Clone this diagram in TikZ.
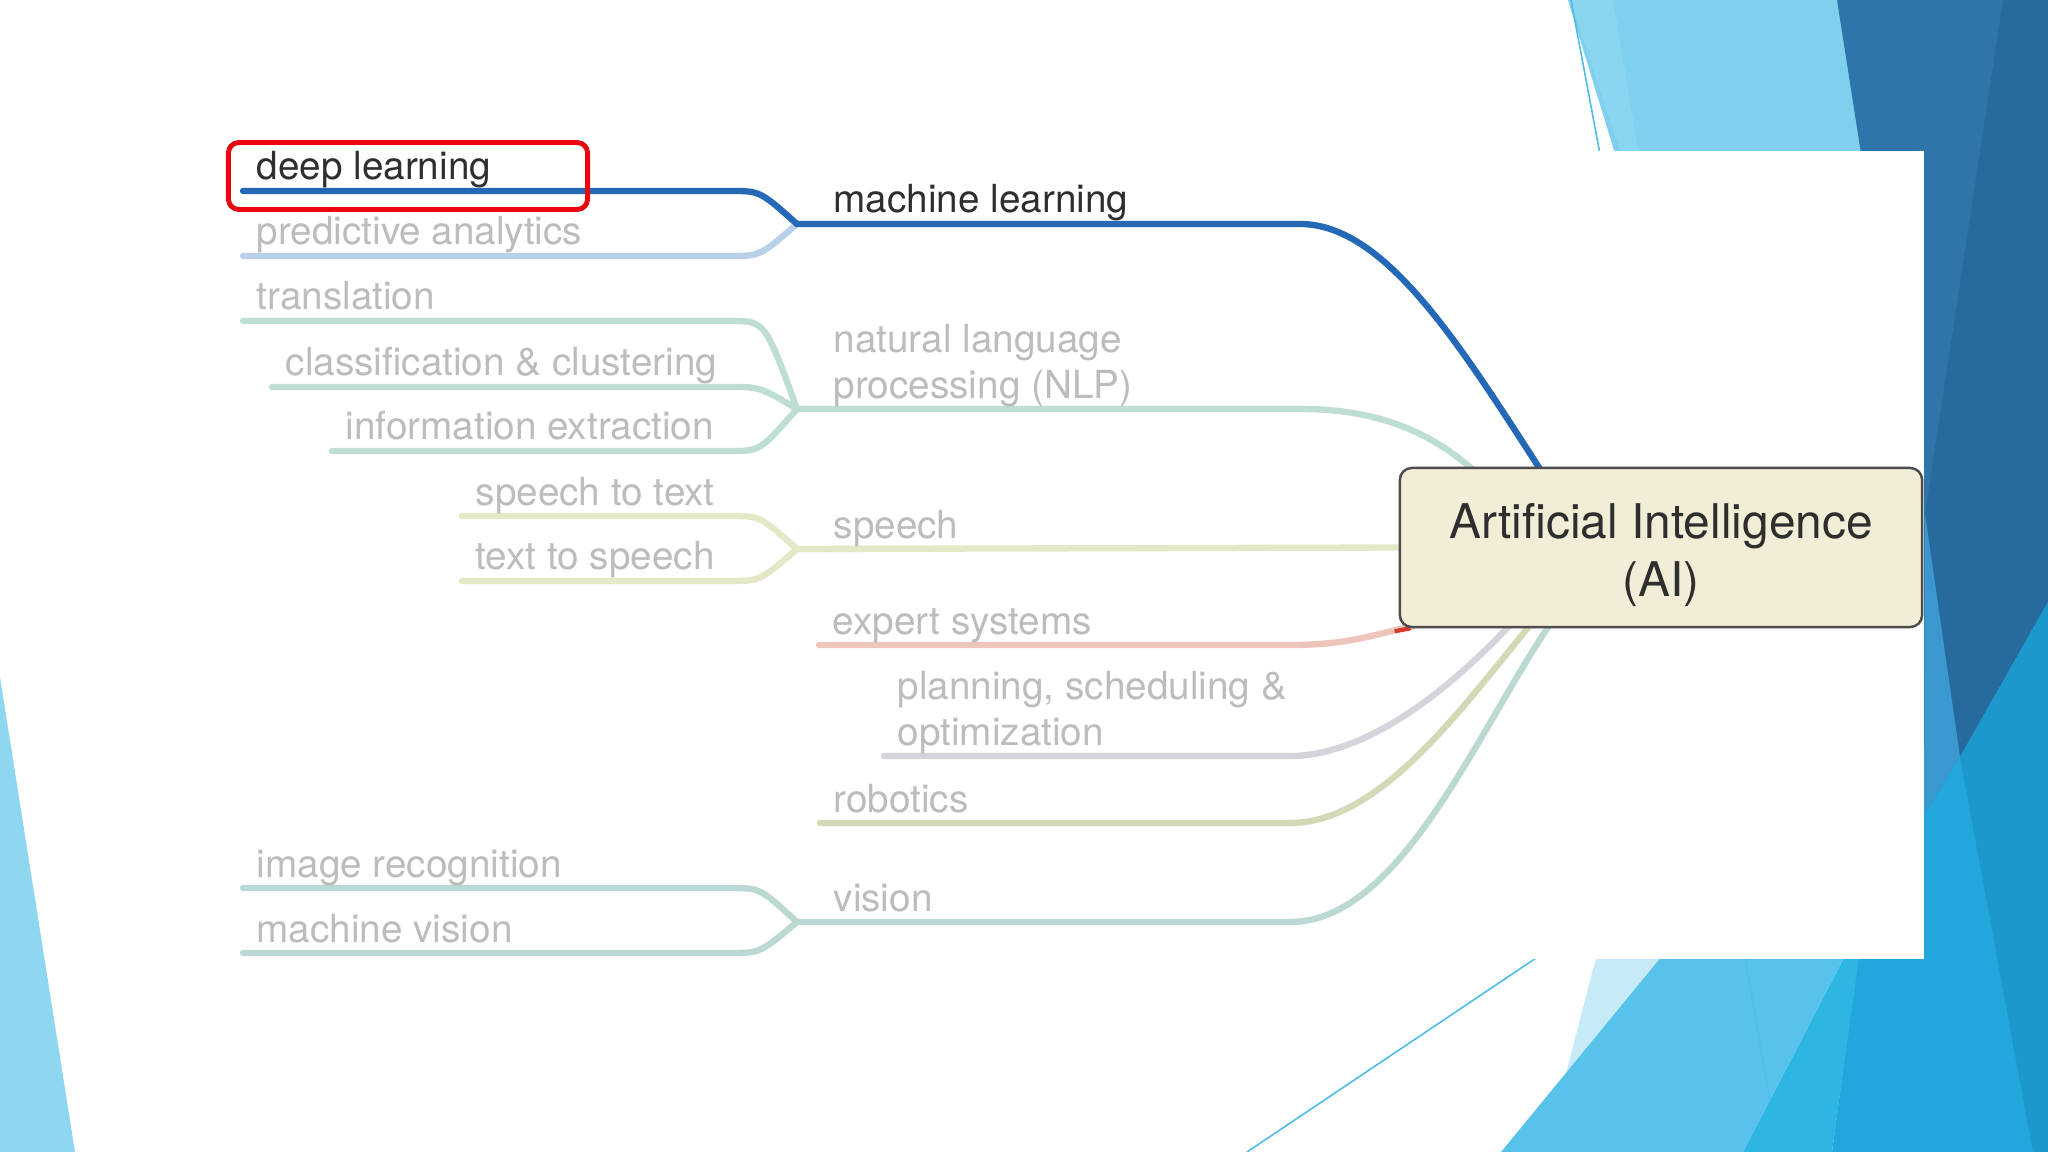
\documentclass[tikz,border=0pt]{standalone}
\usepackage{fontspec}
\setmainfont{TeX Gyre Heros}
\usetikzlibrary{calc}
\definecolor{bgLight}{HTML}{7FD0EE}
\definecolor{bgLight2}{HTML}{8AD5F0}
\definecolor{bgThin}{HTML}{4DBCE8}
\definecolor{bgDark}{HTML}{2E76A9}
\definecolor{bgNavy}{HTML}{276A9D}
\definecolor{bgMidDark}{HTML}{3B97D0}
\definecolor{bgBright}{HTML}{22A6DB}
\definecolor{bgBrightDk}{HTML}{1D98CC}
\definecolor{bgCyan}{HTML}{2DB6E3}
\definecolor{bgMed}{HTML}{57C2EA}
\definecolor{bgPale}{HTML}{C6EAF8}
\definecolor{bgLeft}{HTML}{8DD7F0}
\definecolor{mlblue}{HTML}{2468B6}
\definecolor{pablue}{HTML}{BACFE8}
\definecolor{nlpc}{HTML}{BEDDD5}
\definecolor{spc}{HTML}{E5E7C6}
\definecolor{exc}{HTML}{EEC5BA}
\definecolor{exred}{HTML}{D8382B}
\definecolor{plc}{HTML}{D6D3DB}
\definecolor{rbc}{HTML}{D5D8B6}
\definecolor{vic}{HTML}{BBD9D2}
\definecolor{fadetext}{HTML}{BCBCBC}
\definecolor{darktext}{HTML}{2E2E2E}
\definecolor{aifill}{HTML}{F2EDD6}
\definecolor{aiborder}{HTML}{4D4D4D}
\definecolor{hlred}{HTML}{E8070F}
\pgfdeclarelayer{bglayer}
\pgfdeclarelayer{linelayer}
\pgfsetlayers{bglayer,linelayer,main}
\tikzset{
  lbl/.style={font=\fontsize{11}{13}\selectfont, text=fadetext, inner sep=0pt, anchor=base west},
  lbldark/.style={lbl, text=darktext},
  branch/.style={line width=1.8pt, line cap=round},
  aibox/.style={draw=aiborder, line width=0.7pt, fill=aifill, rounded corners=3.4pt,
    minimum width=5.22cm, minimum height=1.59cm, inner sep=0pt},
  aitext/.style={inner sep=0pt, align=center,
    font=\fontsize{13.6}{16.5}\selectfont, text=darktext},
  hlbox/.style={draw=hlred, line width=1.4pt, rounded corners=3pt,
    minimum width=3.59cm, minimum height=0.67cm, inner sep=0pt}
}
\begin{document}
\begin{tikzpicture}[x=0.01cm, y=-0.01cm]
\useasboundingbox (0,0) rectangle (2048,1152);
\begin{pgfonlayer}{bglayer}
\fill[white] (0,0) rectangle (2048,1152);
\fill[bgLight] (1568,0) -- (1840,0) -- (1866,170) -- (1620,170) -- cycle;
\fill[bgLight2] (1570,0) -- (1613,0) -- (1640,160) -- (1623,160) -- cycle;
\draw[bgThin, line width=0.45pt] (1571,0) -- (1603,170);
\fill[bgDark] (1837,0) -- (2048,0) -- (2048,640) -- (1924,830) -- (1900,160) -- (1862,160) -- cycle;
\fill[bgNavy] (2003,0) -- (2048,0) -- (2048,602) -- (1960,757) -- (1925,514) -- cycle;
\fill[bgMidDark] (1925,514) -- (1960,757) -- (1924,815) -- cycle;
\fill[bgBright] (1859,950) -- (1924,950) -- (1924,815) -- (1960,757) -- (2048,602) -- (2048,1152) -- (1832,1152) -- cycle;
\fill[bgBrightDk] (1960,757) -- (2048,602) -- (2048,1152) -- (2033,1152) -- cycle;
\fill[bgCyan] (1848,950) -- (1860,950) -- (1832,1152) -- (1743,1152) -- cycle;
\fill[bgPale] (1598,950) -- (1667,950) -- (1565,1077) -- cycle;
\fill[bgMed] (1667,950) -- (1848,950) -- (1743,1152) -- (1501,1152) -- cycle;
\draw[bgThin!70!bgMed, line width=0.4pt] (1745,958) -- (1770,1100);
\draw[bgThin, line width=0.45pt] (1247,1152) -- (1545,952);
\fill[bgLeft] (0,677) -- (75,1152) -- (0,1152) -- cycle;
\fill[white] (150,151) rectangle (1924,959);
\end{pgfonlayer}
% ---------- junctions ----------
\coordinate (jml) at (797,224);
\coordinate (jnlp) at (797,409);
\coordinate (jsp) at (797,549);
\coordinate (jvi) at (797,922);
% ---------- central node ----------
\node[aibox] (ai) at (1661,547.5) {};
\node[aitext] (aitxt) at (1661,555) {Artificial Intelligence\\(AI)};
% ---------- labels ----------
\node[lbldark] (dl) at (256,180) {deep learning};
\node[lbl] (pa) at (256,245) {predictive analytics};
\node[lbl] (tr) at (256,310) {translation};
\node[lbl] (cc) at (285,376) {classification \& clustering};
\node[lbl] (ie) at (345,440) {information extraction};
\node[lbl] (stt) at (475,505) {speech to text};
\node[lbl] (tts) at (475,570) {text to speech};
\node[lbl] (ir) at (256,877) {image recognition};
\node[lbl] (mv) at (256,942) {machine vision};
\node[lbldark] (ml) at (833,213) {machine learning};
\node[lbl] (nlp) at (833,353) {natural language};
\node[lbl] (nlp2) at (833,399) {processing (NLP)};
\node[lbl] (sp) at (833,538) {speech};
\node[lbl] (es) at (832,634) {expert systems};
\node[lbl] (ps) at (897,699) {planning, scheduling \&};
\node[lbl] (ps2) at (897,745) {optimization};
\node[lbl] (rb) at (833,812) {robotics};
\node[lbl] (vi) at (833,911) {vision};
% ---------- connectors (on layer below the nodes) ----------
\begin{pgfonlayer}{linelayer}
\draw[branch, pablue] (pa.base west) ++(-13,11) -- (731,256) .. controls (760,256) .. (jml);
\draw[branch, mlblue] (dl.base west) ++(-13,11) -- (731,191) .. controls (760,191) .. (jml);
\draw[branch, mlblue] (jml) -- (1300,224) .. controls (1385,224) and (1460,345) .. ($(ai.north west)+(145,8)$);
\draw[branch, nlpc] (tr.base west) ++(-13,11) -- (731,321) .. controls (765,321) .. (jnlp);
\draw[branch, nlpc] (cc.base west) ++(-13,11) -- (731,387) .. controls (760,387) .. (jnlp);
\draw[branch, nlpc] (ie.base west) ++(-13,11) -- (731,451) .. controls (760,451) .. (jnlp);
\draw[branch, nlpc] (jnlp) -- (1300,409) .. controls (1375,409) and (1430,430) .. ($(ai.north west)+(80,8)$);
\draw[branch, spc] (stt.base west) ++(-13,11) -- (731,516) .. controls (760,516) .. (jsp);
\draw[branch, spc] (tts.base west) ++(-13,11) -- (731,581) .. controls (760,581) .. (jsp);
\draw[branch, spc] (jsp) -- ($(ai.west)+(8,0)$);
\draw[branch, exc] (es.base west) ++(-13,11) -- (1290,645) .. controls (1350,645) and (1375,634) .. ($(ai.south west)+(14,-2)$);
\draw[line width=1.2pt, exred] ($(ai.south west)+(-4,3)$) -- ($(ai.south west)+(12,0)$);
\draw[branch, plc] (ps2.base west) ++(-13,11) -- (1290,756) .. controls (1360,756) and (1440,700) .. ($(ai.south west)+(113,-5)$);
\draw[branch, rbc] (rb.base west) ++(-13,11) -- (1290,823) .. controls (1380,823) and (1460,710) .. ($(ai.south west)+(133,-5)$);
\draw[branch, vic] (ir.base west) ++(-13,11) -- (731,888) .. controls (760,888) .. (jvi);
\draw[branch, vic] (mv.base west) ++(-13,11) -- (731,953) .. controls (760,953) .. (jvi);
\draw[branch, vic] (jvi) -- (1290,922) .. controls (1400,922) and (1475,735) .. ($(ai.south west)+(152,-5)$);
\end{pgfonlayer}
% ---------- highlight ----------
\node[hlbox] (hl) at (408,176) {};
\end{tikzpicture}
\end{document}
